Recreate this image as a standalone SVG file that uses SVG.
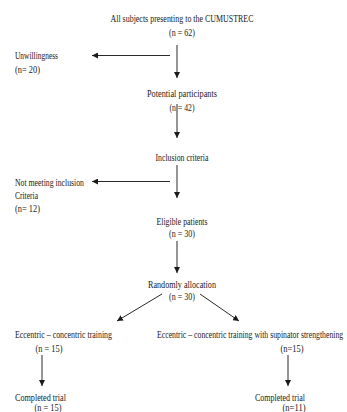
<svg xmlns="http://www.w3.org/2000/svg" width="347" height="412" viewBox="0 0 347 412">
<defs>
<style>
text{font-family:"Liberation Serif","Times New Roman",serif;font-size:11px;fill:#1a1a1a}
.c{text-anchor:middle}
.e{stroke:#2a2a2a;stroke-width:1;fill:none}
</style>
<marker id="ah" markerUnits="userSpaceOnUse" markerWidth="7" markerHeight="6" refX="6" refY="3" orient="auto">
<path d="M0,0 L6,3 L0,6 z" fill="#1a1a1a"/>
</marker>
</defs>
<rect width="347" height="412" fill="#ffffff"/>
<g id="connectors">
<line class="e" x1="177" y1="45" x2="177" y2="78" marker-end="url(#ah)"/>
<line class="e" x1="170" y1="55.5" x2="92" y2="55.5" marker-end="url(#ah)"/>
<line class="e" x1="177" y1="104" x2="177" y2="138" marker-end="url(#ah)"/>
<line class="e" x1="177" y1="165" x2="177" y2="198" marker-end="url(#ah)"/>
<line class="e" x1="170" y1="181.5" x2="92" y2="181.5" marker-end="url(#ah)"/>
<line class="e" x1="177" y1="241" x2="177" y2="273" marker-end="url(#ah)"/>
<line class="e" x1="162" y1="294" x2="117" y2="321" marker-end="url(#ah)"/>
<line class="e" x1="200" y1="294" x2="239" y2="321" marker-end="url(#ah)"/>
<line class="e" x1="42" y1="355" x2="42" y2="386" marker-end="url(#ah)"/>
<line class="e" x1="288" y1="355" x2="288" y2="386" marker-end="url(#ah)"/>
</g>
<g id="n-all">
<text class="c" x="182" y="21.5" textLength="143" lengthAdjust="spacingAndGlyphs">All subjects presenting to the CUMUSTREC</text>
<text class="c" x="182" y="35.5" textLength="26" lengthAdjust="spacingAndGlyphs">(n = 62)</text>
</g>
<g id="n-unwilling">
<text x="15" y="58.5" textLength="43" lengthAdjust="spacingAndGlyphs">Unwillingness</text>
<text x="15" y="72.5" textLength="25" lengthAdjust="spacingAndGlyphs">(n= 20)</text>
</g>
<g id="n-potential">
<text class="c" x="182" y="96.5" textLength="70" lengthAdjust="spacingAndGlyphs">Potential participants</text>
<text class="c" x="182" y="110.5" textLength="25" lengthAdjust="spacingAndGlyphs">(n = 42)</text>
</g>
<g id="n-inclusion">
<text class="c" x="182" y="160.5" textLength="53" lengthAdjust="spacingAndGlyphs">Inclusion criteria</text>
</g>
<g id="n-notmeeting">
<text x="15" y="185.5" textLength="69" lengthAdjust="spacingAndGlyphs">Not meeting inclusion</text>
<text x="15" y="198.5" textLength="23" lengthAdjust="spacingAndGlyphs">Criteria</text>
<text x="15" y="211.5" textLength="25" lengthAdjust="spacingAndGlyphs">(n= 12)</text>
</g>
<g id="n-eligible">
<text class="c" x="182" y="224.5" textLength="51" lengthAdjust="spacingAndGlyphs">Eligible patients</text>
<text class="c" x="182" y="237" textLength="26" lengthAdjust="spacingAndGlyphs">(n = 30)</text>
</g>
<g id="n-random">
<text class="c" x="182" y="287.5" textLength="68" lengthAdjust="spacingAndGlyphs">Randomly allocation</text>
<text class="c" x="182" y="299.5" textLength="26" lengthAdjust="spacingAndGlyphs">(n = 30)</text>
</g>
<g id="n-ecc">
<text x="15" y="338" textLength="97" lengthAdjust="spacingAndGlyphs">Eccentric – concentric training</text>
<text class="c" x="49" y="351.5" textLength="27" lengthAdjust="spacingAndGlyphs">(n = 15)</text>
</g>
<g id="n-ecc-sup">
<text transform="translate(157,338) scale(0.7,1)" x="0" y="0" textLength="266" lengthAdjust="spacingAndGlyphs">Eccentric – concentric training with supinator strengthening</text>
<text class="c" x="292" y="351.5" textLength="23" lengthAdjust="spacingAndGlyphs">(n=15)</text>
</g>
<g id="n-completed-left">
<text x="15" y="400.5" textLength="51" lengthAdjust="spacingAndGlyphs">Completed trial</text>
<text class="c" x="48" y="411" textLength="27" lengthAdjust="spacingAndGlyphs">(n = 15)</text>
</g>
<g id="n-completed-right">
<text x="255" y="400.5" textLength="50" lengthAdjust="spacingAndGlyphs">Completed trial</text>
<text class="c" x="294" y="411" textLength="23" lengthAdjust="spacingAndGlyphs">(n=11)</text>
</g>
</svg>
